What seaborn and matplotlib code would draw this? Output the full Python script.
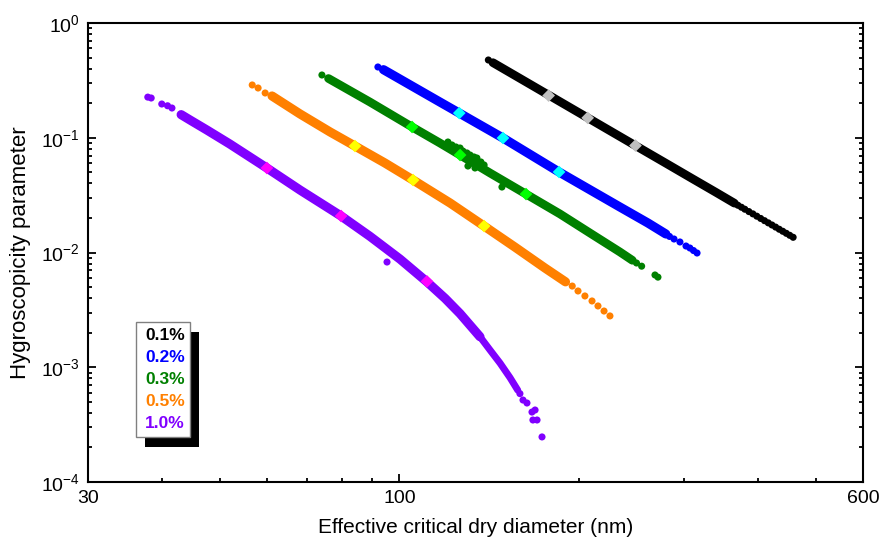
import matplotlib
matplotlib.use("Agg")
import matplotlib.pyplot as plt
from matplotlib.patches import Rectangle
from matplotlib.ticker import FixedLocator, NullFormatter, LogLocator, LogFormatterSciNotation
import pandas as pd
import seaborn as sns

# Supersaturation levels and their colours
levels = ["0.1%", "0.2%", "0.3%", "0.5%", "1.0%"]
band_colors = ["#000000", "#0000ff", "#008000", "#ff8000", "#8000ff"]
mark_colors = ["#c0c0c0", "#00ffff", "#00ff00", "#ffff00", "#ff00ff"]

# Dense core of each retrieval: effective critical dry diameter (nm) vs kappa
core_d_01 = [143.5, 160, 180, 200, 225, 250, 280, 310, 340, 365]
core_k_01 = [0.4513, 0.325, 0.2277, 0.1656, 0.116, 0.0844, 0.060, 0.0441, 0.0334, 0.0269]
core_d_02 = [94.0, 116.9, 149.2, 185.3, 234.5, 261.3, 280.0]
core_k_02 = [0.392, 0.2049, 0.0995, 0.0503, 0.0249, 0.01807, 0.01450]
core_d_03 = [76.0, 89.2, 105.0, 116.9, 126.4, 141.9, 163.1, 185.9, 208.8, 234.5, 246.0]
core_k_03 = [0.3284, 0.2049, 0.1241, 0.0900, 0.0707, 0.0493, 0.0323, 0.0217, 0.01479, 0.0101, 0.00855]
core_d_05 = [61.1, 68.1, 76.5, 84.2, 94.5, 105.4, 121.6, 138.7, 156.2, 175.5, 190.0]
core_k_05 = [0.2312, 0.1611, 0.1122, 0.0847, 0.0603, 0.0428, 0.0270, 0.0170, 0.01116, 0.00732, 0.00555]
core_d_10 = [43.0, 44.5, 47.5, 51.9, 59.9, 68.1, 79.8, 89.2, 100.2, 111.2, 119.3, 126.4, 136.5]
core_k_10 = [0.1590, 0.1428, 0.1168, 0.0882, 0.0545, 0.0350, 0.0208, 0.01384, 0.00876, 0.00555,
             0.00398, 0.00293, 0.001845]
tail_d_10 = [136.5, 141.9, 147.5, 153.3, 158.0]
tail_k_10 = [0.001845, 0.001413, 0.001087, 0.000812, 0.000630]

# Sparse individual retrievals at the ends of each band and outliers
dots_d_01 = [141, 370, 375, 380, 386, 392, 398, 404, 410, 416, 422, 428, 434, 440, 446, 452, 458]
dots_k_01 = [0.476, 0.0258, 0.0248, 0.02383, 0.02273, 0.02171, 0.02072, 0.01980, 0.01894, 0.01813,
             0.01737, 0.01665, 0.01595, 0.01531, 0.01470, 0.01412, 0.01357]
dots_d_02 = [92.0, 284.0, 289.0, 295.7, 302.7, 307.3, 311.6, 315.9]
dots_k_02 = [0.4137, 0.01380, 0.01311, 0.01235, 0.01139, 0.01094, 0.0104, 0.00990]
dots_d_03 = [74.1, 120.6, 122.5, 124.4, 126.4, 127.8, 129.8, 131.4, 133.4, 134.9, 137.0, 138.7,
             130.3, 133.9, 148.6, 250.0, 255.0, 268.5, 271.6]
dots_k_03 = [0.3522, 0.0918, 0.0865, 0.0831, 0.0814, 0.0766, 0.0737, 0.0707, 0.0680, 0.0666, 0.0615,
             0.0579, 0.0567, 0.0545, 0.0372, 0.0081, 0.0076, 0.00637, 0.0061]
dots_d_05 = [56.6, 57.9, 59.5, 195.0, 199.4, 204.8, 210.5, 215.4, 220.5, 225.6]
dots_k_05 = [0.2883, 0.2714, 0.2455, 0.0051, 0.00462, 0.00418, 0.00378, 0.00342, 0.00309, 0.0028]
dots_d_10 = [37.8, 38.3, 39.9, 40.8, 41.5, 95.3, 159.3, 161.2, 163.7, 166.9, 168.9, 167.5, 170.2, 173.5]
dots_k_10 = [0.226, 0.222, 0.1968, 0.190, 0.1816, 0.00826, 0.000589, 0.000518, 0.000488, 0.000407,
             0.000424, 0.000347, 0.000347, 0.000247]

# Highlighted retrievals
mark_d_01 = [178, 207, 249]
mark_k_01 = [0.233, 0.149, 0.0855]
mark_d_02 = [126.0, 149.2, 185.3]
mark_k_02 = [0.164, 0.0995, 0.0503]
mark_d_03 = [105.0, 126.4, 163.1]
mark_k_03 = [0.1241, 0.0707, 0.0323]
mark_d_05 = [84.2, 105.4, 138.7]
mark_k_05 = [0.0847, 0.0428, 0.0170]
mark_d_10 = [59.9, 79.8, 111.2]
mark_k_10 = [0.0545, 0.0208, 0.0056]

x_ticks = [30, 100, 600]
x_minor = [40, 50, 60, 70, 80, 90, 200, 300, 400, 500]

core_d = [core_d_01, core_d_02, core_d_03, core_d_05, core_d_10]
core_k = [core_k_01, core_k_02, core_k_03, core_k_05, core_k_10]
dots_d = [dots_d_01, dots_d_02, dots_d_03, dots_d_05, dots_d_10]
dots_k = [dots_k_01, dots_k_02, dots_k_03, dots_k_05, dots_k_10]
mark_d = [mark_d_01, mark_d_02, mark_d_03, mark_d_05, mark_d_10]
mark_k = [mark_k_01, mark_k_02, mark_k_03, mark_k_05, mark_k_10]
band_w = [6.2, 6.6, 6.2, 6.6, 6.6]

sns.set_theme(style="ticks")
plt.rcParams["font.family"] = ["Liberation Sans", "DejaVu Sans"]
plt.rcParams["mathtext.fontset"] = "custom"
plt.rcParams["mathtext.rm"] = "Liberation Sans"
plt.rcParams["mathtext.default"] = "regular"
plt.rcParams["axes.unicode_minus"] = False

fig = plt.figure(figsize=(8.81, 5.45), dpi=100)
ax = fig.add_axes([88 / 881, 1 - 482 / 545, 775 / 881, 459 / 545])
ax.set_xscale("log")
ax.set_yscale("log")

for i, lvl in enumerate(levels):
    core = pd.DataFrame({"d": core_d[i], "k": core_k[i]})
    sns.lineplot(data=core, x="d", y="k", ax=ax, color=band_colors[i], lw=band_w[i],
                 sort=False, estimator=None, legend=False, solid_capstyle="round",
                 solid_joinstyle="round")

# the steep end of the 1.0% band narrows
tail = pd.DataFrame({"d": tail_d_10, "k": tail_k_10})
sns.lineplot(data=tail, x="d", y="k", ax=ax, color=band_colors[4], lw=5.0, sort=False,
             estimator=None, legend=False, solid_capstyle="round", solid_joinstyle="round")

dots = pd.concat([pd.DataFrame({"d": dots_d[i], "k": dots_k[i], "level": lvl})
                  for i, lvl in enumerate(levels)])
sns.scatterplot(data=dots, x="d", y="k", hue="level", palette=dict(zip(levels, band_colors)),
                s=26, linewidth=0, ax=ax, legend=False)

marks = pd.concat([pd.DataFrame({"d": mark_d[i], "k": mark_k[i], "level": lvl})
                   for i, lvl in enumerate(levels)])
sns.scatterplot(data=marks, x="d", y="k", hue="level", palette=dict(zip(levels, mark_colors)),
                marker="D", s=42, linewidth=0, ax=ax, legend=False, zorder=5)

ax.set_xlim(30, 600)
ax.set_ylim(1e-4, 1)
ax.xaxis.set_major_locator(FixedLocator(x_ticks))
ax.xaxis.set_minor_locator(FixedLocator(x_minor))
ax.xaxis.set_minor_formatter(NullFormatter())
ax.set_xticklabels([str(t) for t in x_ticks])
ax.yaxis.set_major_locator(LogLocator(base=10, numticks=10))
ax.yaxis.set_minor_locator(LogLocator(base=10, subs=range(2, 10), numticks=20))
ax.yaxis.set_major_formatter(LogFormatterSciNotation())
ax.yaxis.set_minor_formatter(NullFormatter())

for s in ax.spines.values():
    s.set_linewidth(1.5)
    s.set_color("black")
ax.tick_params(which="both", direction="in", top=False, right=True, width=1.3, color="black",
               labelsize=14, labelcolor="black")
ax.tick_params(which="major", length=6, pad=6)
ax.tick_params(which="minor", length=3.2)

ax.set_xlabel("Effective critical dry diameter (nm)", fontsize=15, color="black", labelpad=8)
ax.set_ylabel("Hygroscopicity parameter", fontsize=16, color="black", labelpad=7)

# Key box with drop shadow
fig.add_artist(Rectangle((145 / 881, 1 - 447 / 545), 54 / 881, 115 / 545,
                         transform=fig.transFigure, facecolor="black", edgecolor="none", zorder=10))
fig.add_artist(Rectangle((136 / 881, 1 - 437 / 545), 54 / 881, 115 / 545,
                         transform=fig.transFigure, facecolor="white", edgecolor="#808080",
                         linewidth=1, zorder=11))
for i, lvl in enumerate(levels):
    yc = [336, 358, 380, 402, 424][i]
    fig.text(145 / 881, 1 - yc / 545, lvl, color=band_colors[i], fontsize=12.5, fontweight="bold",
             ha="left", va="center", zorder=12)

fig.savefig("out.png", dpi=100)
